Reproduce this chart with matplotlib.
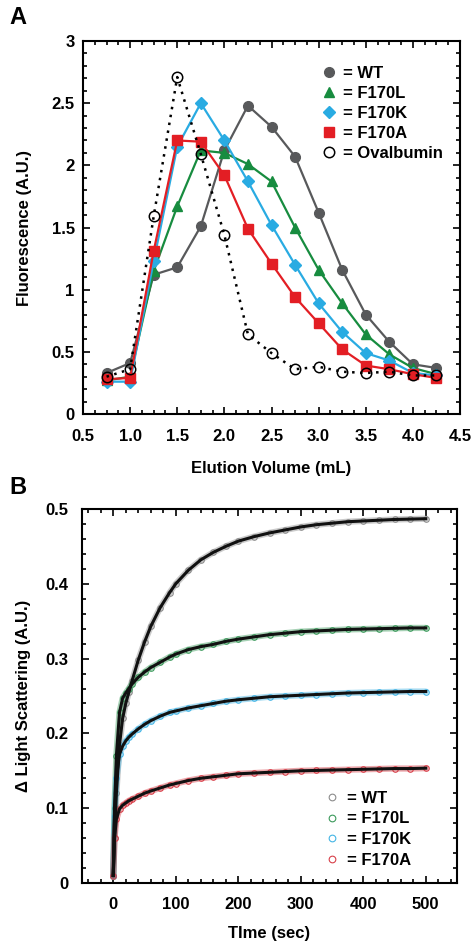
import matplotlib as mpl
mpl.use("Agg")
import matplotlib.pyplot as plt
from matplotlib.ticker import MultipleLocator, FixedLocator, FuncFormatter

plt.rcParams['font.family'] = ['Liberation Sans', 'DejaVu Sans']
plt.rcParams['font.weight'] = 'bold'
plt.rcParams['axes.labelweight'] = 'bold'

# ---- panel A: elution profiles ----
elution_ml = [0.75, 1.0, 1.25, 1.5, 1.75, 2.0, 2.25, 2.5, 2.75, 3.0, 3.25, 3.5, 3.75, 4.0, 4.25]
fluo_wt = [0.33, 0.41, 1.12, 1.18, 1.51, 2.12, 2.48, 2.31, 2.07, 1.62, 1.16, 0.80, 0.58, 0.40, 0.37]
fluo_f170l = [0.27, 0.30, 1.15, 1.67, 2.12, 2.10, 2.01, 1.87, 1.50, 1.16, 0.89, 0.64, 0.48, 0.37, 0.32]
fluo_f170k = [0.26, 0.26, 1.23, 2.15, 2.50, 2.20, 1.87, 1.52, 1.20, 0.89, 0.66, 0.49, 0.43, 0.33, 0.31]
fluo_f170a = [0.28, 0.29, 1.31, 2.20, 2.19, 1.92, 1.49, 1.21, 0.94, 0.73, 0.52, 0.39, 0.36, 0.32, 0.29]
fluo_oval = [0.30, 0.36, 1.59, 2.71, 2.09, 1.44, 0.64, 0.49, 0.36, 0.38, 0.34, 0.33, 0.34, 0.31, 0.31]

# ---- panel B: light scattering kinetics ----
time_s = [0, 2, 5, 10, 15, 20, 25, 30, 40, 50, 60, 75, 90, 100, 120, 140, 160, 180, 200,
          225, 250, 275, 300, 325, 350, 375, 400, 425, 450, 475, 500]
ls_wt = [0.01, 0.06, 0.12, 0.185, 0.22, 0.24, 0.255, 0.27, 0.298, 0.322, 0.343, 0.368, 0.388,
         0.400, 0.418, 0.432, 0.442, 0.450, 0.457, 0.463, 0.468, 0.472, 0.476, 0.479, 0.481,
         0.483, 0.484, 0.485, 0.486, 0.4865, 0.487]
ls_f170l = [0.01, 0.10, 0.17, 0.228, 0.247, 0.254, 0.26, 0.266, 0.275, 0.282, 0.288, 0.295, 0.302,
            0.306, 0.312, 0.316, 0.319, 0.323, 0.326, 0.329, 0.332, 0.334, 0.336, 0.337, 0.338,
            0.339, 0.3395, 0.340, 0.3405, 0.341, 0.341]
ls_f170k = [0.01, 0.09, 0.14, 0.172, 0.183, 0.19, 0.195, 0.199, 0.206, 0.212, 0.217, 0.223, 0.228,
            0.230, 0.234, 0.237, 0.240, 0.243, 0.245, 0.247, 0.249, 0.250, 0.251, 0.252, 0.253,
            0.254, 0.2545, 0.255, 0.2555, 0.256, 0.256]
ls_f170a = [0.01, 0.06, 0.085, 0.099, 0.104, 0.107, 0.110, 0.112, 0.116, 0.120, 0.123, 0.127, 0.131,
            0.133, 0.137, 0.140, 0.142, 0.144, 0.146, 0.147, 0.148, 0.149, 0.150, 0.1505, 0.151,
            0.1515, 0.152, 0.1525, 0.153, 0.153, 0.1535]

labels = ['= WT', '= F170L', '= F170K', '= F170A']
colors_a = ['#58595b', '#178c3f', '#29abe2', '#e31e24']
colors_b = ['#8c8c8c', '#3c9a5c', '#45b5e5', '#d8404a']
markers_a = ['o', '^', 'D', 's']
msize_a = [7, 7.5, 6, 6.5]

fs_tick = 12
fs_lab = 12
fs_leg = 12


def style_axes(ax, xpad, ypad):
    for sp in ax.spines.values():
        sp.set_linewidth(1.5)
    ax.tick_params(which='both', direction='in', top=True, right=True, labelsize=fs_tick, width=1.2)
    ax.tick_params(which='major', length=5)
    ax.tick_params(which='minor', length=3)
    ax.tick_params(axis='x', pad=xpad)
    ax.tick_params(axis='y', pad=ypad)


fig = plt.figure(figsize=(4.76, 9.52), dpi=100)
ax1 = fig.add_axes([83 / 476, 1 - 414 / 952, 377 / 476, 373 / 952])
ax2 = fig.add_axes([82 / 476, 1 - 883 / 952, 375 / 476, 374 / 952])

# panel A
series_a = [fluo_wt, fluo_f170l, fluo_f170k, fluo_f170a]
for y, c, m, ms, lab in zip(series_a, colors_a, markers_a, msize_a, labels):
    ax1.plot(elution_ml, y, color=c, marker=m, markersize=ms, lw=1.6, label=lab)
ax1.plot(elution_ml, fluo_oval, color='black', ls=(0, (1, 2.2)), lw=1.8, marker='o',
         markersize=7.5, markerfacecolor='none', markeredgewidth=1.1, label='= Ovalbumin')

ax1.set_xlim(0.5, 4.5)
ax1.set_ylim(0, 3)
ax1.xaxis.set_major_locator(MultipleLocator(0.5))
ax1.xaxis.set_minor_locator(MultipleLocator(0.125))
ax1.yaxis.set_major_locator(MultipleLocator(0.5))
ax1.yaxis.set_minor_locator(MultipleLocator(0.1))
ax1.xaxis.set_major_formatter(FuncFormatter(lambda v, p: f"{v:.1f}"))
ax1.yaxis.set_major_formatter(FuncFormatter(lambda v, p: f"{v:g}"))
style_axes(ax1, xpad=11, ypad=6)
ax1.set_xlabel('Elution Volume (mL)', fontsize=fs_lab, labelpad=12)
ax1.set_ylabel('Fluorescence (A.U.)', fontsize=fs_lab, labelpad=14)
leg1 = ax1.legend(loc='upper left', bbox_to_anchor=(0.615, 0.95), frameon=False, fontsize=fs_leg,
                  handlelength=0.9, handletextpad=0.4, labelspacing=0.3, borderaxespad=0)
for h in leg1.get_lines():
    h.set_linestyle('none')

# panel B
series_b = [ls_wt, ls_f170l, ls_f170k, ls_f170a]
for y, c, lab in zip(series_b, colors_b, labels):
    ax2.plot(time_s, y, color=c, lw=4.5, alpha=0.45, solid_capstyle='round')
    ax2.plot(time_s, y, ls='none', marker='o', markersize=4, markerfacecolor='none',
             markeredgecolor=c, markeredgewidth=0.8, label=lab)
for y in series_b:
    ax2.plot(time_s, y, color='#111111', lw=2.2)

ax2.set_xlim(-50, 550)
ax2.set_ylim(0, 0.5)
ax2.xaxis.set_major_locator(FixedLocator([0, 100, 200, 300, 400, 500]))
ax2.xaxis.set_minor_locator(MultipleLocator(20))
ax2.yaxis.set_major_locator(MultipleLocator(0.1))
ax2.yaxis.set_minor_locator(MultipleLocator(0.02))
ax2.yaxis.set_major_formatter(FuncFormatter(lambda v, p: "0" if abs(v) < 1e-9 else f"{v:.1f}"))
style_axes(ax2, xpad=10, ypad=10)
ax2.set_xlabel('TIme (sec)', fontsize=fs_lab, labelpad=10)
ax2.set_ylabel('\u0394 Light Scattering (A.U.)', fontsize=fs_lab, labelpad=10)
ax2.legend(loc='upper left', bbox_to_anchor=(0.63, 0.265), frameon=False, fontsize=fs_leg,
           handlelength=0.8, handletextpad=0.5, labelspacing=0.35, borderaxespad=0,
           markerscale=1.2)

fig.text(18 / 476, 1 - 18 / 952, 'A', fontsize=17, fontweight='bold', ha='center', va='center')
fig.text(18 / 476, 1 - 488 / 952, 'B', fontsize=17, fontweight='bold', ha='center', va='center')

fig.savefig('out.png', dpi=100)
